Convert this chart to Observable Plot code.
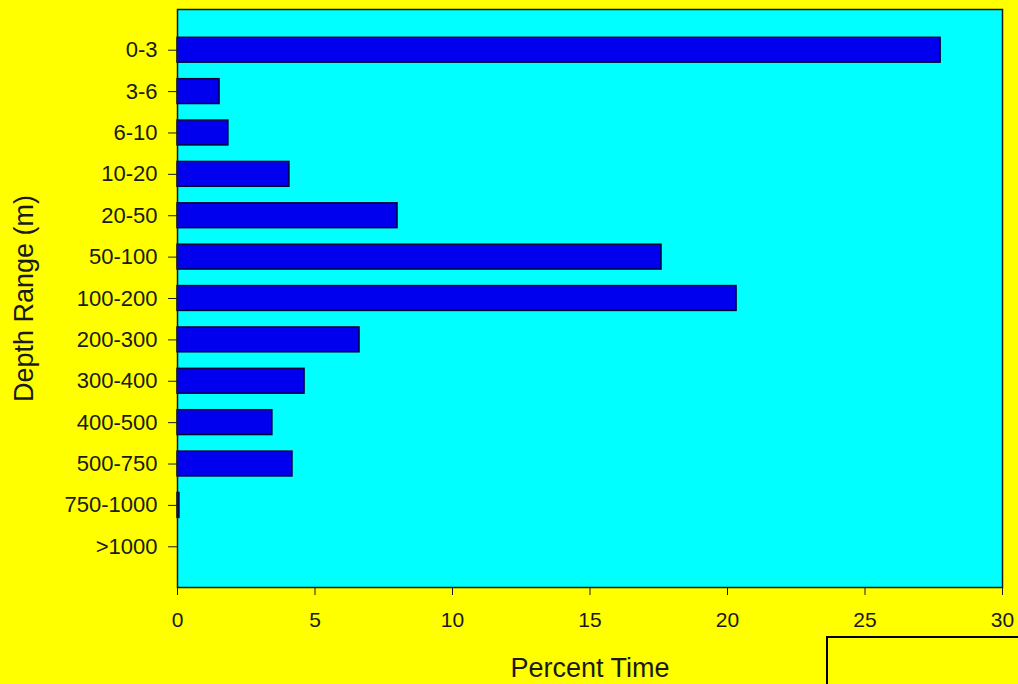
<!DOCTYPE html>
<html>
<head>
<meta charset="utf-8">
<script src="https://cdn.jsdelivr.net/npm/d3@7"></script>
<script src="https://cdn.jsdelivr.net/npm/@observablehq/plot@0.6"></script>
<style>
  html, body { margin: 0; padding: 0; background: #ffff00; }
  #wrap { position: relative; width: 1018px; height: 684px; overflow: hidden; }
  #legendbox { position: absolute; left: 826px; top: 636px; width: 200px; height: 60px;
    border: 2px solid #000; background: #ffff00; box-sizing: border-box; }
</style>
</head>
<body>
<div id="wrap"><div id="chart"></div><div id="legendbox"></div></div>
<script>
const depthRanges = ["0-3", "3-6", "6-10", "10-20", "20-50", "50-100", "100-200", "200-300", "300-400", "400-500", "500-750", "750-1000", ">1000"];
const percentTime = [27.75, 1.53, 1.85, 4.07, 8.0, 17.6, 20.33, 6.62, 4.62, 3.45, 4.18, 0.07, 0];
const xTicks = [0, 5, 10, 15, 20, 25, 30];

const data = depthRanges.map((d, i) => ({depth: d, pct: percentTime[i]}));

const chart = Plot.plot({
  width: 1018,
  height: 684,
  marginLeft: 177,
  marginRight: 16,
  marginTop: 9,
  marginBottom: 97,
  style: {background: "#ffff00", fontFamily: "'Liberation Sans', Arial, sans-serif", fontSize: "22px", color: "#1a1a1a"},
  x: {domain: [0, 30]},
  y: {domain: depthRanges, paddingInner: 0.4, paddingOuter: 0.684, round: false},
  marks: [
    Plot.frame({fill: "#00ffff", stroke: "none"}),
    Plot.barX(data, {x: "pct", y: "depth", fill: "#0000ee", stroke: "#000033", strokeWidth: 1.5}),
    Plot.frame({stroke: "#1a1a1a", strokeWidth: 1.5}),
    Plot.axisX({ticks: xTicks, tickSize: 8, tickPadding: 17, fontSize: 21, label: null, stroke: "#1a1a1a"}),
    Plot.axisX({ticks: [], label: "Percent Time", labelAnchor: "center", labelArrow: "none", labelOffset: 89, fontSize: 27}),
    Plot.axisY({tickSize: 9, tickPadding: 11, fontSize: 22, label: null, stroke: "#1a1a1a"}),
    Plot.axisY({ticks: [], label: "Depth Range (m)", labelAnchor: "center", labelArrow: "none", labelOffset: 164, fontSize: 27})
  ]
});
document.getElementById("chart").appendChild(chart);
</script>
</body>
</html>
